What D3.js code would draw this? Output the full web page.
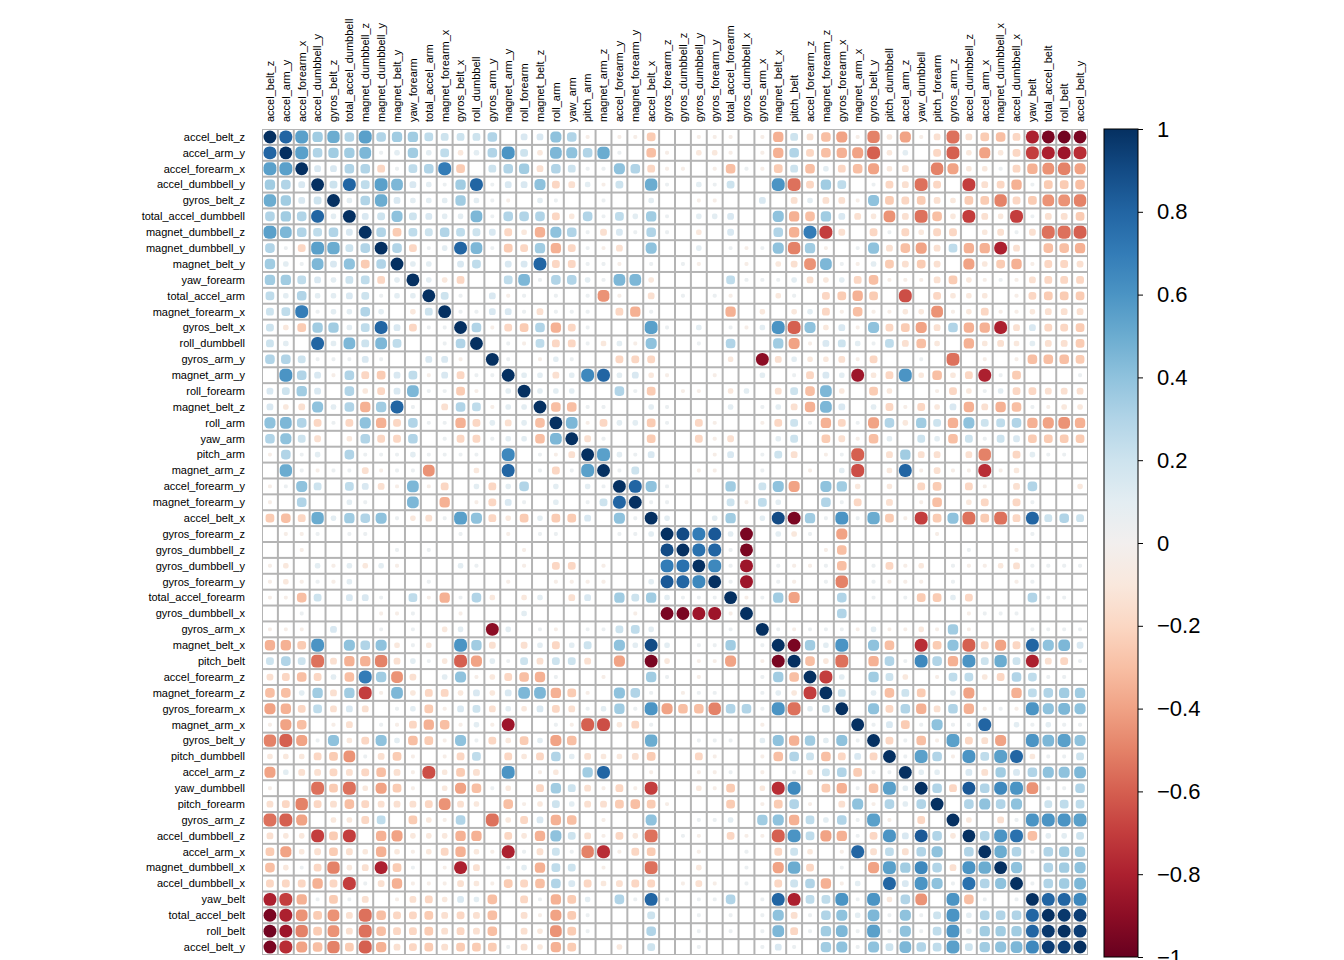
<!DOCTYPE html>
<html>
<head>
<meta charset="utf-8">
<script src="https://cdn.jsdelivr.net/npm/d3@7"></script>
<style>
body { margin: 0; background: #fff; }
text { font-family: "Liberation Sans", Arial, sans-serif; }
</style>
</head>
<body>
<div id="chart"></div>
<script>
var variables = ["accel_belt_z","accel_arm_y","accel_forearm_x","accel_dumbbell_y","gyros_belt_z","total_accel_dumbbell",
  "magnet_dumbbell_z","magnet_dumbbell_y","magnet_belt_y","yaw_forearm","total_accel_arm","magnet_forearm_x","gyros_belt_x",
  "roll_dumbbell","gyros_arm_y","magnet_arm_y","roll_forearm","magnet_belt_z","roll_arm","yaw_arm","pitch_arm","magnet_arm_z",
  "accel_forearm_y","magnet_forearm_y","accel_belt_x","gyros_forearm_z","gyros_dumbbell_z","gyros_dumbbell_y","gyros_forearm_y",
  "total_accel_forearm","gyros_dumbbell_x","gyros_arm_x","magnet_belt_x","pitch_belt","accel_forearm_z","magnet_forearm_z",
  "gyros_forearm_x","magnet_arm_x","gyros_belt_y","pitch_dumbbell","accel_arm_z","yaw_dumbbell","pitch_forearm","gyros_arm_z",
  "accel_dumbbell_z","accel_arm_x","magnet_dumbbell_x","accel_dumbbell_x","yaw_belt","total_accel_belt","roll_belt","accel_belt_y"];

// lower triangle of the correlation matrix, row i holds columns 0..i-1
var corrLower = [
  [],
  [0.8],
  [0.55,0.55],
  [0.35,0.3,0.15],
  [0.5,0.35,0.15,0.2],
  [0.3,0.35,0.3,0.8,0.1],
  [0.55,0.45,0.3,0.25,0.3,0.15],
  [0.3,0.05,-0.2,0.55,0.5,0.2,0.3],
  [0.35,0.1,0.05,0.45,0.15,0.4,-0.25,0.3],
  [0.35,0.35,0.25,0.15,0.1,0.2,0.25,-0.2,0.1],
  [0.25,0.1,0.3,0.1,0.1,0.15,0.2,0.05,0.1,0.1],
  [0.2,0.25,0.7,0.05,0.1,0.1,0.3,0.1,0,-0.1,0.2],
  [0.2,-0.1,-0.25,0.35,0.35,0.1,0.25,0.8,0.15,-0.2,0.05,0.05],
  [0.2,0.1,0,0.8,0.1,0.45,0.2,0.45,0.25,0,0,0.05,0.3],
  [0.3,0.3,0.2,0.05,0.05,0.05,0.15,0.05,0,0,0.15,0.15,-0.05,0],
  [0,0.6,0.3,0.15,-0.05,0.3,-0.2,-0.25,0.15,0.25,-0.05,0.15,-0.2,0.05,0.05],
  [0.15,0.2,0.35,0.15,0,0.3,-0.1,-0.2,0.15,0.45,0.05,0.05,-0.25,-0.05,0,0.1],
  [0.15,-0.1,-0.15,0.4,0.1,0.3,-0.35,0.35,0.8,0.05,0,-0.15,0.3,0.25,-0.05,0.1,0.1],
  [0.4,0.45,0.3,-0.2,0.05,-0.2,0.4,-0.35,-0.2,0.3,0.05,0.05,-0.35,-0.2,0.1,-0.15,0.1,-0.3],
  [0.3,0.4,0.2,-0.15,0,-0.1,0.3,-0.2,-0.2,0.3,0,0.05,-0.2,-0.2,0.05,0.1,0.1,-0.3,0.45],
  [-0.05,0.3,0.05,0.1,0,0.3,0.05,0.05,0.05,0.1,0.05,0.05,0.05,0.05,0,0.65,0,0.05,-0.05,-0.15],
  [0,0.5,0.05,-0.05,0.05,0.05,-0.15,-0.05,0.05,0.05,-0.45,0,0,-0.1,0,0.8,0,0.05,-0.2,0.05,0.55],
  [-0.05,0.05,0.4,0.2,0,0.25,0.15,-0.15,-0.05,0.45,-0.05,-0.2,0,0.1,-0.2,0.1,0.3,0,0.1,0,0.1,0.05],
  [-0.05,0,0.3,0,0,0.1,0.05,0,0,0.45,0,-0.35,0,-0.05,-0.2,0.15,0.05,0,0.1,0,0.05,0.2,0.8],
  [-0.25,-0.3,-0.2,0.5,0.1,0.35,0.3,0.4,0.05,-0.1,-0.15,0.05,0.55,0.4,-0.2,-0.1,-0.25,0.1,-0.25,-0.25,0.15,0,0.4,0.05],
  [0,-0.05,-0.05,0.05,0,0.05,0.05,0,0,0,0,0,0.05,0,0,-0.05,0,0.05,0.05,0,0,0,0.05,0.05,0.1],
  [0,0,-0.05,0,0,0,0,0,0.05,0,0.05,0,0,0,0,0,-0.05,0,0,0,0,0,0,0,0,0.9],
  [-0.05,-0.1,0,0.1,-0.05,0.1,-0.1,0.1,-0.05,0,0,0,0.1,0.05,0,0,-0.05,0,-0.2,-0.2,0,-0.05,0,0,0,0.7,0.75],
  [-0.05,-0.1,-0.05,0.05,-0.05,0.1,0,0,0,0,0.05,0,0,0,0,-0.05,0,0,-0.05,-0.05,-0.05,-0.05,0,0,0.1,0.85,0.8,0.65],
  [-0.05,-0.05,-0.3,0.2,0,0.15,0.15,0.05,0,0.25,-0.05,-0.35,0.05,0.3,-0.1,0,-0.1,0.1,0,-0.15,0.15,0,0.35,0.2,0.35,0.1,0.05,0.05,0.05],
  [0,0,0.05,0,0,0,0,-0.05,-0.05,0.05,0,0,-0.05,0,0,0,0.1,0,0,0,0,0,0,-0.05,0,-0.95,-0.95,-0.85,-0.85,-0.05],
  [-0.05,-0.05,-0.05,0,0.15,0,0,0.05,0,0.05,0,-0.1,0.1,0,-0.9,0.1,0,0.05,-0.05,0,0.05,0.05,0.2,0.25,0.1,0,0,0,0,0.05,0],
  [-0.35,-0.35,-0.25,0.6,0,0.4,0.3,0.4,-0.1,0.05,-0.1,0,0.6,0.35,-0.15,0,-0.15,0.1,-0.2,0.1,0.2,0,0.4,0.1,0.9,0.1,0,0.05,0.05,0.35,0,0.05],
  [0.2,0.3,0.2,-0.55,-0.15,-0.35,-0.35,-0.5,-0.15,0.1,0.05,-0.1,-0.6,-0.4,0.1,0.05,0.2,-0.15,0.2,0.2,-0.15,0,-0.4,0,-0.95,-0.1,0,-0.05,-0.05,-0.4,0,-0.05,-0.95],
  [-0.15,-0.2,-0.3,-0.2,0.1,-0.3,0.7,0.35,-0.45,-0.15,0,0.1,0.4,-0.05,-0.1,-0.2,-0.3,-0.35,0.05,0,0,-0.05,0,0,0.35,0.05,0,-0.05,0,0,0,0.05,0.35,-0.3],
  [-0.3,-0.3,0.1,0.35,-0.15,0.35,-0.7,-0.05,0.45,-0.1,-0.2,-0.2,-0.1,0.15,-0.1,0.15,0.45,0.45,-0.35,-0.25,-0.05,0,0.4,0.3,0.05,0,-0.05,0.05,0.05,0,0,0.05,0.1,-0.1,-0.7],
  [-0.4,-0.35,-0.2,0.25,-0.15,0.15,-0.15,0,0.05,0.1,-0.25,-0.05,0.15,0.2,-0.15,0.1,-0.1,0.15,-0.2,-0.15,0.05,0.1,0.35,0.05,0.6,-0.4,-0.3,-0.3,-0.5,0.3,0.3,0.05,0.6,-0.55,0.1,0.2],
  [-0.05,-0.4,-0.3,0,-0.05,-0.15,0,0.05,-0.05,-0.2,-0.35,-0.3,-0.05,0.1,-0.05,-0.85,0,0,0.05,-0.05,-0.6,-0.65,-0.1,-0.2,0.05,0,0,0,0,0,0,-0.05,0,0,0,0,0],
  [-0.5,-0.6,-0.4,0.05,0.4,-0.1,-0.2,0.4,0.1,-0.3,-0.25,-0.05,0.4,0.05,-0.2,-0.1,-0.25,0.1,-0.4,-0.3,0,0,0,0,0.5,0,0,0.05,0.05,0.05,0,0.1,0.4,-0.35,0.35,0.1,0.4,0.05],
  [-0.1,-0.1,-0.1,-0.2,-0.25,-0.45,0.05,-0.15,-0.25,-0.05,0,-0.05,-0.2,0.25,0,-0.2,-0.1,-0.2,0.3,0.1,-0.15,-0.1,-0.1,-0.15,-0.25,0,0,-0.2,-0.05,0,0,-0.05,-0.3,0.3,0.2,-0.3,-0.2,0.15,-0.2],
  [-0.4,0.1,-0.15,-0.15,-0.2,-0.15,-0.2,-0.3,-0.15,-0.05,-0.65,-0.1,-0.25,-0.15,0,0.6,0,-0.05,-0.1,0,0.35,0.8,0,0,-0.05,0,0,-0.05,-0.05,0.05,0,-0.05,0,0.05,-0.1,0.2,0.3,-0.25,0.05,0.05],
  [-0.05,0,0,-0.55,-0.25,-0.55,-0.1,-0.4,-0.25,-0.05,0,-0.1,-0.4,-0.3,0.05,-0.1,0,-0.2,0.35,0.2,-0.15,-0.05,-0.2,-0.05,-0.7,0,0,-0.1,-0.05,-0.25,0,-0.1,-0.75,0.65,0,-0.25,-0.35,0.05,-0.3,0.55,0.1],
  [-0.15,-0.2,-0.5,-0.2,-0.15,-0.3,-0.2,-0.15,-0.15,-0.15,-0.2,-0.45,-0.15,-0.1,0,-0.3,-0.05,-0.1,0.2,0.1,-0.15,-0.15,-0.25,-0.3,-0.25,-0.05,0,0,0,-0.25,0,-0.05,-0.25,0.3,-0.05,0,-0.15,0.4,-0.05,0.3,0.1,0.3],
  [-0.55,-0.6,-0.4,0,-0.1,-0.1,-0.2,0.25,0,-0.25,-0.1,-0.05,0.3,0,-0.55,-0.1,-0.2,0.15,-0.35,-0.3,0,-0.05,0,0,0.4,0,0,0.05,0.05,0.1,0,0.35,0.4,-0.35,0.25,0.1,0.3,0.05,0.55,-0.05,0,-0.2,0],
  [-0.15,-0.1,-0.1,-0.7,-0.25,-0.7,0,-0.35,-0.4,-0.1,-0.1,-0.1,-0.35,-0.35,0,-0.2,-0.1,-0.35,0.4,0.2,-0.15,-0.05,-0.2,-0.1,-0.55,0,0.05,-0.05,0,-0.2,-0.05,-0.05,-0.6,0.6,0.25,-0.4,-0.35,0.05,-0.2,0.6,0.15,0.85,0.3,-0.1],
  [-0.25,-0.4,-0.1,-0.15,-0.25,-0.15,-0.1,-0.35,-0.1,-0.05,-0.1,-0.2,-0.35,-0.1,-0.05,-0.8,0.05,-0.15,0.2,0.05,-0.5,-0.75,-0.05,-0.2,-0.25,0,0,-0.05,0,0,0.05,0,-0.2,0.2,-0.1,0,-0.05,0.8,-0.15,0.25,-0.15,0.3,0.4,0,0.3],
  [-0.3,-0.1,0.05,-0.2,-0.5,-0.1,-0.15,-0.8,-0.25,0.05,0,-0.05,-0.8,-0.15,0,0.05,0.1,-0.35,0.25,0.2,0,-0.05,0,0,-0.55,0,0,-0.1,0,0,0.05,0,-0.4,0.5,-0.2,0,0.05,0,-0.4,0.55,0.35,0.65,0.3,-0.15,0.6,0.5],
  [-0.2,-0.2,-0.2,-0.35,-0.2,-0.7,0.05,-0.15,-0.35,-0.05,-0.05,-0.05,-0.15,-0.1,-0.05,-0.25,-0.2,-0.3,0.3,0.15,-0.2,-0.1,-0.15,-0.2,-0.2,0,-0.05,-0.15,-0.05,0,0.05,0,-0.2,0.2,0.3,-0.35,-0.05,0.1,0,0.8,0.15,0.6,0.4,0.05,0.75,0.3,0.4],
  [-0.8,-0.7,-0.35,0.05,-0.25,0.05,-0.15,0,-0.05,-0.15,-0.2,-0.1,0.15,0.1,-0.3,0,-0.2,0.05,-0.35,-0.25,0.1,0,0.3,0.05,0.8,0.05,0,0.05,0.05,0.3,0,0.05,0.8,-0.8,0.25,0.25,0.6,0.05,0.6,-0.1,0.3,-0.45,0,0.6,-0.3,0.05,0,0.05],
  [-0.95,-0.8,-0.45,-0.25,-0.45,-0.15,-0.55,-0.3,-0.2,-0.2,-0.25,-0.15,-0.2,-0.15,-0.3,0,-0.15,-0.05,-0.4,-0.25,0.05,0,0,0,0.2,0,0,0.05,0,0.05,0,0.05,0.4,-0.15,0.05,0.3,0.4,0.1,0.45,0.05,0.4,0.05,0.2,0.6,0.1,0.3,0.3,0.3,0.8],
  [-0.97,-0.85,-0.5,-0.25,-0.45,-0.15,-0.55,-0.3,-0.2,-0.2,-0.25,-0.15,-0.2,-0.15,-0.3,0,-0.15,-0.1,-0.45,-0.25,0.05,0,0,0,0.3,0,0,0.05,0,0.05,0,0.05,0.45,-0.2,0.05,0.35,0.45,0.05,0.55,0.05,0.4,0.05,0.25,0.6,0.1,0.35,0.35,0.35,0.8,0.97],
  [-0.95,-0.75,-0.4,-0.3,-0.5,-0.25,-0.6,-0.35,-0.15,-0.2,-0.25,-0.15,-0.25,-0.25,-0.25,0.05,-0.15,-0.1,-0.35,-0.25,0,0,-0.1,0,0.2,0,0,0.05,0,0,0,0.05,0.15,0.05,0,0.35,0.4,0.05,0.4,0.2,0.45,0.3,0.25,0.55,0.2,0.35,0.4,0.45,0.65,0.95,0.95]
];

var legendTicks = [1, 0.8, 0.6, 0.4, 0.2, 0, -0.2, -0.4, -0.6, -0.8, -1];

var n = variables.length;
var cells = [];
for (var i = 0; i < n; i++) {
  for (var j = 0; j < n; j++) {
    var v = i === j ? 1 : (j < i ? corrLower[i][j] : corrLower[j][i]);
    cells.push({ row: i, col: j, value: v });
  }
}

var W = 1344, H = 960;
var gridLeft = 262, gridTop = 129, gridSize = 826;

var svg = d3.select('#chart').append('svg').attr('width', W).attr('height', H);

var x = d3.scaleBand().domain(d3.range(n)).range([gridLeft, gridLeft + gridSize]);
var y = d3.scaleBand().domain(d3.range(n)).range([gridTop, gridTop + gridSize]);
var colour = d3.scaleSequential(d3.interpolateRdBu).domain([-1, 1]);
var step = x.bandwidth();

// grid background
svg.append('rect')
  .attr('x', gridLeft).attr('y', gridTop).attr('width', gridSize).attr('height', gridSize)
  .attr('fill', '#b4b4b4');

svg.append('g').selectAll('rect')
  .data(cells).enter().append('rect')
  .attr('x', d => x(d.col) + 1)
  .attr('y', d => y(d.row) + 1)
  .attr('width', step - 2)
  .attr('height', step - 2)
  .attr('fill', '#fff');

// circles (area ~ |r|), large ones squared off by the cell
var inner = step - 3;
svg.append('g').selectAll('rect')
  .data(cells.filter(d => Math.abs(d.value) > 0.005)).enter().append('rect')
  .each(function(d) {
    var r = 0.55 * step * Math.sqrt(Math.abs(d.value));
    var s = Math.min(2 * r, inner);
    var rr = Math.min(r * 0.75, s / 2);
    d3.select(this)
      .attr('x', x(d.col) + step / 2 - s / 2)
      .attr('y', y(d.row) + step / 2 - s / 2)
      .attr('width', s).attr('height', s)
      .attr('rx', rr).attr('ry', rr);
  })
  .attr('fill', d => colour(d.value));

// row labels
svg.append('g').selectAll('text')
  .data(variables).enter().append('text')
  .attr('x', gridLeft - 17)
  .attr('y', (d, i) => y(i) + step / 2)
  .attr('dy', '0.35em')
  .attr('text-anchor', 'end')
  .attr('font-size', 11)
  .text(d => d);

// column labels
svg.append('g').selectAll('text')
  .data(variables).enter().append('text')
  .attr('transform', (d, i) => 'translate(' + (x(i) + step / 2) + ',' + (gridTop - 7) + ') rotate(-90)')
  .attr('dy', '0.35em')
  .attr('font-size', 11)
  .text(d => d);

// colour legend
var lx = 1104, lw = 34;
var ly = d3.scaleLinear().domain([1, -1]).range([gridTop, gridTop + gridSize + 2]);
var grad = svg.append('defs').append('linearGradient')
  .attr('id', 'lg').attr('x1', 0).attr('x2', 0).attr('y1', 0).attr('y2', 1);
d3.range(0, 1.0001, 0.05).forEach(function(t) {
  grad.append('stop').attr('offset', t).attr('stop-color', colour(1 - 2 * t));
});
svg.append('rect')
  .attr('x', lx).attr('y', gridTop).attr('width', lw).attr('height', gridSize + 2)
  .attr('fill', 'url(#lg)').attr('stroke', '#000').attr('stroke-width', 1);

var axis = d3.axisRight(ly).tickValues(legendTicks).tickSize(5).tickFormat(d3.format('~g'));
var ag = svg.append('g').attr('transform', 'translate(' + (lx + lw) + ',0)').call(axis);
ag.select('.domain').remove();
ag.selectAll('line').attr('stroke', '#000');
ag.selectAll('text')
  .attr('x', 19)
  .attr('font-size', 22)
  .attr('fill', '#000')
  .style('font-family', '"Liberation Sans", Arial, sans-serif');
</script>
</body>
</html>
